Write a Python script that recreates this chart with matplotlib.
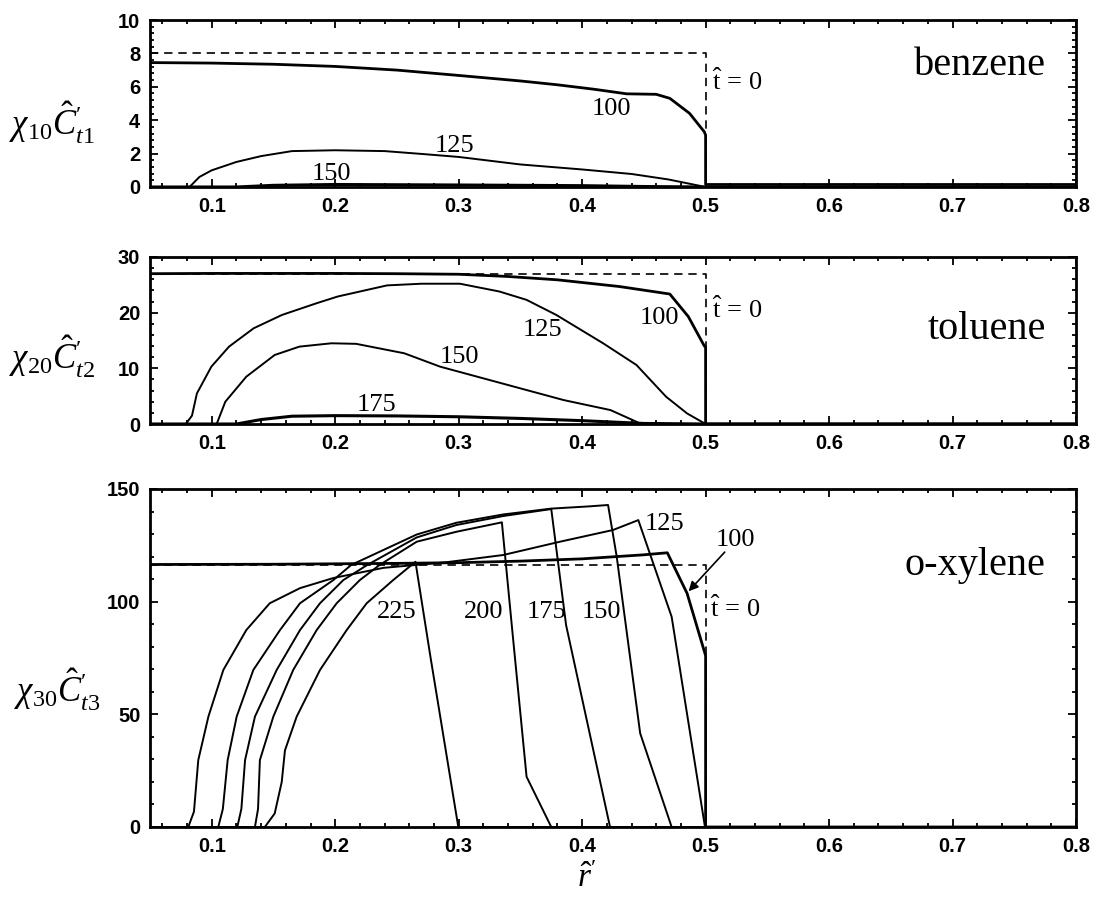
import matplotlib.pyplot as plt
from matplotlib.ticker import MultipleLocator, AutoMinorLocator

plt.rcParams["font.family"] = "Liberation Serif"
plt.rcParams["mathtext.fontset"] = "custom"
plt.rcParams["mathtext.rm"] = "Liberation Serif"
plt.rcParams["mathtext.it"] = "Liberation Serif:italic"
plt.rcParams["mathtext.bf"] = "Liberation Serif:bold"
plt.rcParams["mathtext.fallback"] = "stix"

# ---- benzene ----
bz_x100 = [0.05, 0.10, 0.15, 0.20, 0.25, 0.30, 0.35, 0.38, 0.41, 0.436, 0.46, 0.471, 0.487, 0.499, 0.5, 0.5, 0.8]
bz_y100 = [7.45, 7.42, 7.35, 7.22, 7.0, 6.68, 6.35, 6.12, 5.85, 5.58, 5.55, 5.31, 4.41, 3.3, 3.1, 0.15, 0.15]
bz_x125 = [0.05, 0.082, 0.09, 0.10, 0.12, 0.14, 0.165, 0.20, 0.24, 0.27, 0.30, 0.35, 0.40, 0.44, 0.47, 0.50, 0.8]
bz_y125 = [0, 0, 0.6, 1.0, 1.5, 1.85, 2.15, 2.2, 2.15, 1.98, 1.8, 1.35, 1.05, 0.78, 0.45, 0, 0]
bz_x150 = [0.05, 0.12, 0.15, 0.20, 0.30, 0.40, 0.45, 0.50, 0.8]
bz_y150 = [0, 0, 0.1, 0.15, 0.12, 0.08, 0.03, 0, 0]
bz_init = 8.0

# ---- toluene ----
tl_x100 = [0.05, 0.10, 0.15, 0.20, 0.25, 0.30, 0.34, 0.38, 0.43, 0.471, 0.486, 0.499, 0.5, 0.5, 0.8]
tl_y100 = [27.0, 27.05, 27.05, 27.05, 27.0, 26.9, 26.5, 25.9, 24.7, 23.35, 19.3, 14.0, 13.8, 0, 0]
tl_x125 = [0.05, 0.079, 0.084, 0.088, 0.0997, 0.114, 0.134, 0.157, 0.185, 0.202, 0.242, 0.27, 0.301,
           0.333, 0.355, 0.379, 0.417, 0.444, 0.468, 0.485, 0.5, 0.8]
tl_y125 = [0, 0, 1.5, 5.5, 10.3, 13.9, 17.2, 19.6, 21.7, 22.9, 24.9, 25.2, 25.2,
           23.8, 22.3, 19.6, 14.5, 10.6, 4.9, 1.9, 0, 0]
tl_x150 = [0.05, 0.104, 0.111, 0.128, 0.151, 0.171, 0.197, 0.217, 0.256, 0.285, 0.325, 0.385, 0.423, 0.441, 0.448, 0.5, 0.8]
tl_y150 = [0, 0, 4.0, 8.5, 12.4, 13.9, 14.5, 14.4, 12.7, 10.3, 7.9, 4.3, 2.5, 0.7, 0, 0, 0]
tl_x175 = [0.05, 0.12, 0.14, 0.165, 0.20, 0.25, 0.30, 0.35, 0.40, 0.45, 0.5, 0.8]
tl_y175 = [0, 0, 0.8, 1.4, 1.5, 1.45, 1.3, 1.0, 0.6, 0.1, 0, 0]
tl_init = 26.9

# ---- o-xylene ----
ox_x100 = [0.05, 0.15, 0.25, 0.30, 0.35, 0.40, 0.45, 0.469, 0.485, 0.4995, 0.5, 0.5, 0.8]
ox_y100 = [116.5, 116.6, 117.0, 117.3, 118.0, 119.0, 120.8, 121.7, 103.7, 77.0, 76.0, 0, 0]
ox_x125 = [0.05, 0.081, 0.0856, 0.0891, 0.0973, 0.1094, 0.128, 0.147, 0.1715, 0.1985, 0.239, 0.29,
           0.336, 0.382, 0.425, 0.4455, 0.4725, 0.4995, 0.8]
ox_y125 = [0, 0, 6.8, 29.7, 49, 69.7, 87.4, 99.3, 106, 110.5, 115, 117.5,
           120.7, 126.6, 131.8, 136.2, 93.3, 0, 0]
ox_x150 = [0.05, 0.1053, 0.109, 0.1129, 0.1202, 0.1337, 0.1553, 0.1715, 0.1985, 0.213, 0.266, 0.298,
           0.336, 0.375, 0.406, 0.421, 0.428, 0.447, 0.4725, 0.8]
ox_y150 = [0, 0, 8, 29.7, 49, 69.7, 87.4, 99.3, 109.6, 116.3, 129.8, 135.0,
           138.7, 141.3, 142.3, 142.9, 120, 41.6, 0, 0]
ox_x175 = [0.05, 0.1207, 0.124, 0.127, 0.135, 0.1526, 0.1715, 0.1877, 0.2066, 0.226, 0.266, 0.298,
           0.336, 0.375, 0.387, 0.4226, 0.8]
ox_y175 = [0, 0, 8, 29.7, 49, 69.7, 87.4, 99.3, 109.6, 116.3, 128.5, 134.0,
           138.0, 141.1, 89.6, 0, 0]
ox_x200 = [0.05, 0.135, 0.1375, 0.139, 0.1499, 0.166, 0.185, 0.2012, 0.22, 0.236, 0.266, 0.298,
           0.335, 0.343, 0.355, 0.375, 0.8]
ox_y200 = [0, 0, 8, 29.7, 49, 69.7, 87.4, 99.3, 109.6, 116.3, 126.6, 131.0,
           135.2, 89.6, 22.3, 0, 0]
ox_x225 = [0.05, 0.143, 0.151, 0.1567, 0.1593, 0.1688, 0.1877, 0.2093, 0.2255, 0.247, 0.265,
           0.277, 0.2997, 0.8]
ox_y225 = [0, 0, 6, 20, 34, 49, 69.7, 87.4, 99.3, 109.6, 117.7, 76.0, 0, 0]
ox_init = 116.3

W, H = 1096, 898
fig = plt.figure(figsize=(W / 100, H / 100), dpi=100)


def px_axes(top, bottom, left=150, right=1076):
    return fig.add_axes([left / W, 1 - bottom / H, (right - left) / W, (bottom - top) / H])


ax1 = px_axes(20, 187)
ax2 = px_axes(257, 424)
ax3 = px_axes(489, 827)

tick_font = {"family": "Liberation Sans", "weight": "bold", "size": 14.5}
lab_size = 19
t0_label = r"$\hat{\mathrm{t}}\,=\,0$"


def style(ax, ymax, ystep):
    ax.set_xlim(0.05, 0.8)
    ax.set_ylim(0, ymax)
    ax.xaxis.set_major_locator(MultipleLocator(0.1))
    ax.xaxis.set_minor_locator(AutoMinorLocator(5))
    ax.yaxis.set_major_locator(MultipleLocator(ystep))
    ax.yaxis.set_minor_locator(AutoMinorLocator(5))
    ax.tick_params(which="both", direction="in", top=True, right=True, width=1.3)
    ax.tick_params(which="major", length=6, pad=7)
    ax.tick_params(which="minor", length=3)
    for s in ax.spines.values():
        s.set_linewidth(2)
    ax.set_xticks([0.1, 0.2, 0.3, 0.4, 0.5, 0.6, 0.7, 0.8])
    ax.set_xticklabels(["0.1", "0.2", "0.3", "0.4", "0.5", "0.6", "0.7", "0.8"], **tick_font)
    ax.set_yticklabels([f"{v:g}" for v in ax.get_yticks()], **tick_font)


def initial(ax, level):
    ax.plot([0.05, 0.5, 0.5], [level, level, 0], color="black", lw=1.2, ls=(0, (5, 3.5)))


# benzene
initial(ax1, bz_init)
ax1.plot(bz_x100, bz_y100, color="black", lw=2.0)
ax1.plot(bz_x125, bz_y125, color="black", lw=1.4)
ax1.plot(bz_x150, bz_y150, color="black", lw=2.2)
style(ax1, 10, 2)
ax1.text(0.4235, 4.67, "100", fontsize=lab_size, ha="center", va="center")
ax1.text(0.297, 2.45, "125", fontsize=lab_size, ha="center", va="center")
ax1.text(0.197, 0.75, "150", fontsize=lab_size, ha="center", va="center")
ax1.text(0.505, 6.3, t0_label, fontsize=lab_size, ha="left", va="center")
ax1.text(0.776, 7.3, "benzene", fontsize=29, ha="right", va="center")

# toluene
initial(ax2, tl_init)
ax2.plot(tl_x100, tl_y100, color="black", lw=2.0)
ax2.plot(tl_x125, tl_y125, color="black", lw=1.4)
ax2.plot(tl_x150, tl_y150, color="black", lw=1.4)
ax2.plot(tl_x175, tl_y175, color="black", lw=2.2)
style(ax2, 30, 10)
ax2.text(0.463, 19.0, "100", fontsize=lab_size, ha="center", va="center")
ax2.text(0.368, 16.9, "125", fontsize=lab_size, ha="center", va="center")
ax2.text(0.301, 12.0, "150", fontsize=lab_size, ha="center", va="center")
ax2.text(0.2336, 3.4, "175", fontsize=lab_size, ha="center", va="center")
ax2.text(0.505, 20.5, t0_label, fontsize=lab_size, ha="left", va="center")
ax2.text(0.776, 16.9, "toluene", fontsize=29, ha="right", va="center")

# o-xylene
initial(ax3, ox_init)
ax3.plot(ox_x100, ox_y100, color="black", lw=2.0)
for xs, ys in [(ox_x125, ox_y125), (ox_x150, ox_y150), (ox_x175, ox_y175),
               (ox_x200, ox_y200), (ox_x225, ox_y225)]:
    ax3.plot(xs, ys, color="black", lw=1.4)
style(ax3, 150, 50)
ax3.text(0.2498, 95.2, "225", fontsize=lab_size, ha="center", va="center")
ax3.text(0.3205, 95.2, "200", fontsize=lab_size, ha="center", va="center")
ax3.text(0.3713, 95.4, "175", fontsize=lab_size, ha="center", va="center")
ax3.text(0.4158, 95.4, "150", fontsize=lab_size, ha="center", va="center")
ax3.text(0.467, 134.5, "125", fontsize=lab_size, ha="center", va="center")
ax3.text(0.5245, 127.4, "100", fontsize=lab_size, ha="center", va="center")
ax3.annotate("", xy=(0.4847, 103.7), xytext=(0.517, 122.9),
             arrowprops=dict(arrowstyle="-|>", color="black", lw=1.2, mutation_scale=14))
ax3.text(0.5036, 97, t0_label, fontsize=lab_size, ha="left", va="center")
ax3.text(0.775, 116, "o-xylene", fontsize=29, ha="right", va="center")

# axis titles
ylab = r"$\chi_{\mathit{%s}}\hat{C}^{\prime}_{\mathit{%s}}$"
fig.text(52 / W, 1 - 123 / H, ylab % ("10", "t1"), fontsize=25, ha="center", va="center")
fig.text(52 / W, 1 - 357 / H, ylab % ("20", "t2"), fontsize=25, ha="center", va="center")
fig.text(57 / W, 1 - 690 / H, ylab % ("30", "t3"), fontsize=25, ha="center", va="center")
fig.text(587 / W, 1 - 879 / H, r"$\hat{r}^{\prime}$", fontsize=24, ha="center", va="center")

fig.savefig("out.png", dpi=100)
